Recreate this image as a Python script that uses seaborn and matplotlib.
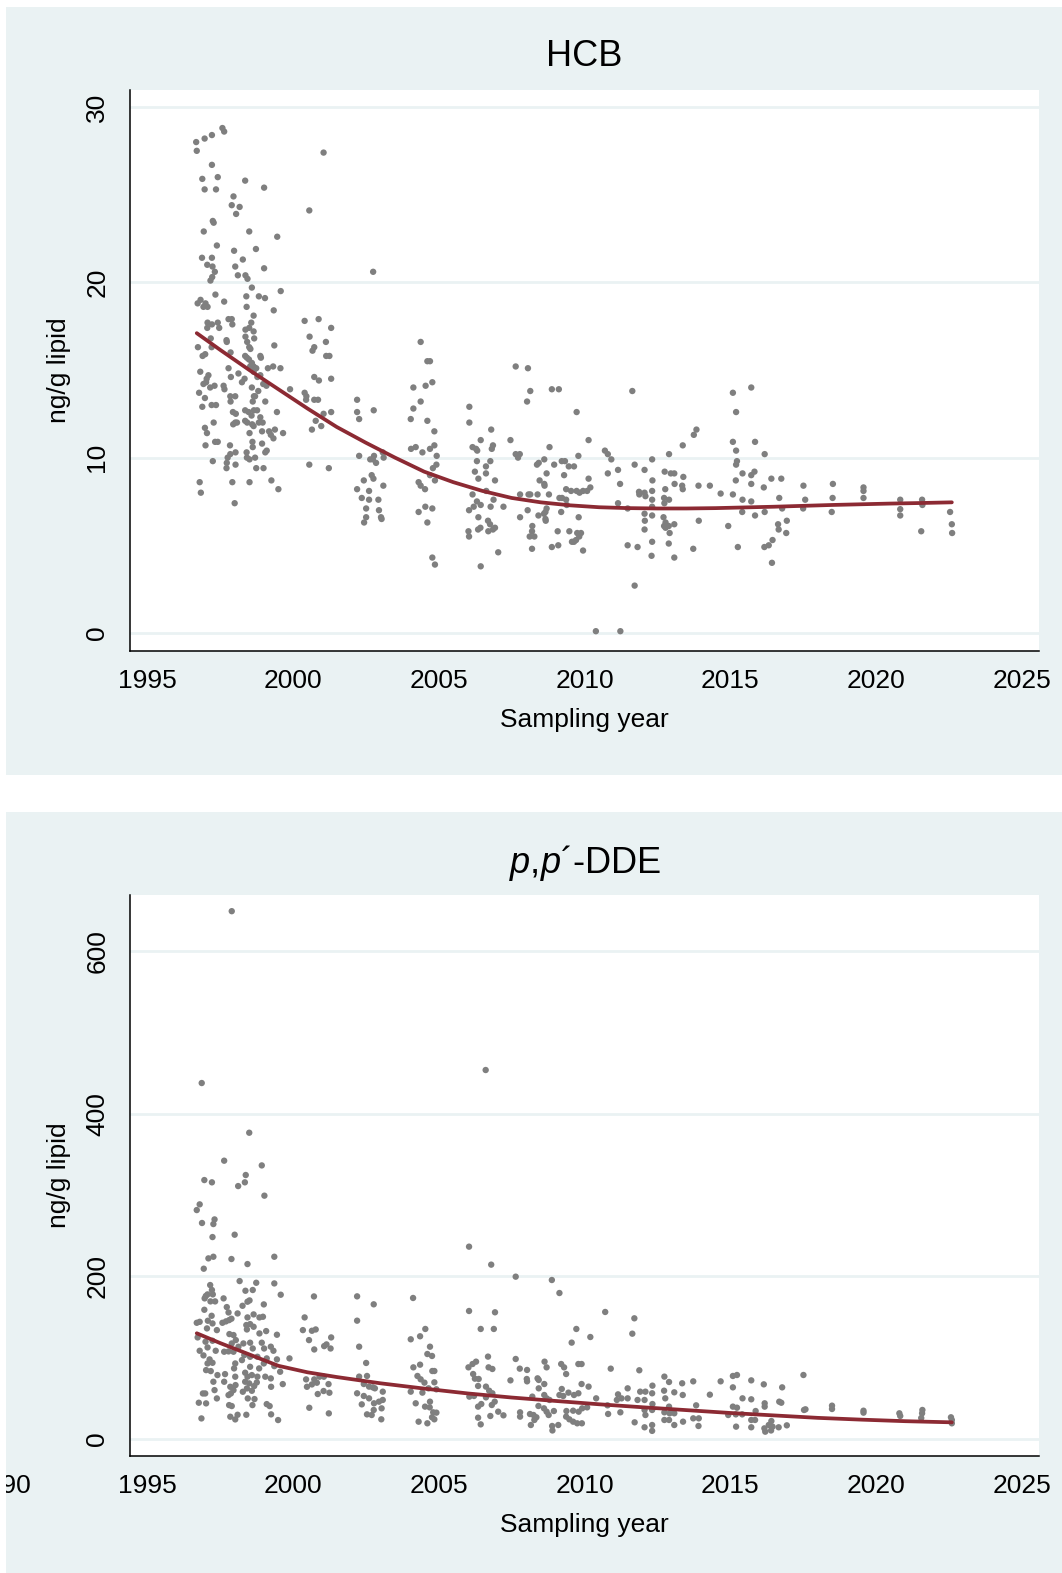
import numpy as np
import pandas as pd
import matplotlib
matplotlib.use("Agg")
import matplotlib.pyplot as plt
import seaborn as sns
from matplotlib.patches import Rectangle
from matplotlib.transforms import blended_transform_factory

# ---------------- data ----------------
hcb_points = [
    (1996.68, 28.0), (1996.70, 27.5), (1996.97, 28.2), (1997.22, 28.4), (1997.58, 28.8), (1997.64, 28.6), (2001.05, 27.4),
    (1997.22, 26.7), (1996.89, 25.9), (1997.42, 26.0), (1996.97, 25.3), (1997.36, 25.3), (1998.36, 25.8), (1999.01, 25.4),
    (1997.96, 24.9), (1997.90, 24.4), (1998.17, 24.3), (1998.05, 23.9), (2000.56, 24.1),
    (1997.25, 23.5), (1997.28, 23.4), (1996.94, 22.9), (1998.50, 22.9), (1999.46, 22.6),
    (1997.39, 22.1), (1997.98, 21.8), (1998.73, 21.9), (1996.88, 21.4), (1997.22, 21.4), (1998.28, 21.3), (1997.06, 21.0),
    (1997.24, 20.9), (1998.02, 20.9), (1997.32, 20.6), (1997.23, 20.3), (1997.17, 20.1), (1998.11, 20.4), (1998.37, 20.4),
    (1998.44, 20.2), (1999.01, 20.8), (2002.75, 20.6),
    (1998.59, 19.7), (1999.58, 19.5), (1997.34, 19.3), (1996.73, 18.8), (1996.83, 19.0), (1997.00, 18.8), (1996.93, 18.6),
    (1997.07, 18.6), (1997.64, 18.9), (1998.40, 19.2), (1998.41, 18.6), (1998.83, 19.2), (1999.04, 19.1), (1999.34, 18.4),
    (1998.65, 18.1), (1997.07, 17.7), (1997.22, 17.6), (1997.42, 17.7), (1997.79, 17.9), (1997.90, 17.9), (1997.92, 17.6),
    (1998.57, 17.7), (1997.06, 17.4), (1997.47, 17.4), (1998.37, 17.3), (1998.50, 17.4), (1998.65, 17.2), (2000.40, 17.8),
    (2000.88, 17.9), (2001.31, 17.4),
    (1996.74, 16.3), (1996.90, 15.8), (1996.99, 15.9), (1997.18, 16.8), (1997.21, 16.3), (1997.72, 16.7), (1997.73, 16.6),
    (1998.37, 16.9), (1998.43, 16.6), (1998.50, 16.3), (1998.54, 16.2), (1998.67, 16.8), (1999.36, 16.4), (1997.86, 16.0),
    (1998.36, 15.8), (1998.42, 15.7), (1998.49, 15.6), (1998.59, 15.4), (1998.53, 15.2), (1998.65, 15.2), (1998.88, 15.8),
    (1998.90, 15.7), (2000.57, 16.9), (2000.73, 16.3), (2000.67, 16.1), (2001.13, 16.6), (2001.14, 15.8), (2001.25, 15.8),
    (1996.82, 14.9), (1997.10, 14.7), (1997.04, 14.5), (1996.93, 14.2), (1997.02, 14.3), (1997.16, 14.0), (1997.31, 14.1),
    (1997.62, 14.1), (1997.65, 13.9), (1997.79, 15.1), (1997.87, 14.6), (1998.13, 14.8), (1998.25, 14.3), (1998.34, 14.5),
    (1998.65, 14.9), (1998.74, 15.1), (1998.78, 14.6), (1998.88, 14.7), (1998.98, 14.2), (1999.09, 14.1), (1999.14, 15.1),
    (1999.32, 15.2), (1999.57, 15.1), (2000.73, 14.6), (2000.89, 14.4), (2001.31, 14.5),
    (1996.78, 13.7), (1996.98, 13.4), (1996.89, 12.9), (1997.21, 13.0), (1997.36, 13.0), (1997.85, 13.5), (1998.02, 13.5),
    (1997.86, 13.2), (1998.59, 14.0), (1998.81, 13.8), (1998.66, 13.5), (1998.70, 13.5), (1998.62, 13.2), (1999.05, 13.2),
    (1999.90, 13.9), (2000.40, 13.7), (2000.46, 13.5), (2000.45, 13.3), (2000.73, 13.3), (2000.86, 13.3),
    (1997.94, 12.6), (1998.04, 12.5), (1998.36, 12.7), (1998.48, 12.6), (1998.58, 12.4), (1998.66, 12.7), (1998.77, 12.7),
    (1998.36, 12.1), (1998.43, 12.0), (1998.88, 12.3), (1998.83, 12.0), (1998.96, 12.0), (1997.95, 11.9), (1998.02, 12.0),
    (1998.08, 12.0), (1998.60, 11.9), (1998.65, 11.8), (1999.45, 12.6), (2000.78, 12.1), (2001.05, 12.5), (2001.31, 12.6),
    (1996.98, 11.7), (1997.05, 11.4), (1997.28, 12.0), (1998.51, 11.4), (1998.94, 11.5), (1999.18, 11.5), (1999.24, 11.3),
    (1999.38, 11.6), (1999.33, 11.1), (1999.66, 11.4), (2000.65, 11.6), (2000.97, 11.8),
    (1997.00, 10.7), (1997.33, 10.9), (1997.42, 10.9), (1997.84, 10.7), (1997.85, 10.2), (1998.03, 10.3), (1998.61, 10.9),
    (1998.62, 10.6), (1998.94, 10.8), (1999.05, 10.3), (1999.10, 10.4), (1998.41, 10.3), (1998.42, 10.0), (1998.51, 9.9),
    (1998.70, 10.0), (1997.25, 9.8), (1997.76, 10.0), (1997.73, 9.7), (1997.72, 9.4), (1998.03, 9.6), (1998.74, 9.4),
    (1998.99, 9.4), (2000.56, 9.6), (2001.23, 9.4),
    (1996.80, 8.6), (1996.84, 8.0), (1997.92, 8.6), (1998.51, 8.6), (1999.26, 8.7), (1999.50, 8.2), (1998.00, 7.4),
    # 2002-2003
    (2002.20, 13.3), (2002.20, 12.6), (2002.27, 12.2), (2002.77, 12.7), (2002.27, 10.1), (2002.65, 9.9), (2002.78, 10.1),
    (2002.74, 9.9), (2002.85, 9.7), (2003.08, 10.3), (2003.11, 10.0), (2002.43, 8.7), (2002.70, 9.0), (2002.76, 8.8),
    (2002.20, 8.2), (2002.36, 7.7), (2002.61, 8.1), (2002.61, 7.6), (2002.93, 7.6), (2003.10, 8.4), (2002.51, 7.1),
    (2002.51, 6.6), (2002.95, 7.0), (2003.02, 6.6), (2003.04, 6.5), (2002.44, 6.3),
    # 2004-2005
    (2004.38, 16.6), (2004.61, 15.5), (2004.70, 15.5), (2004.13, 14.0), (2004.55, 14.1), (2004.78, 14.3), (2004.38, 13.2),
    (2004.13, 12.8), (2004.04, 12.2), (2004.61, 12.1), (2004.85, 11.5), (2004.05, 10.5), (2004.21, 10.6), (2004.44, 10.3),
    (2004.70, 10.5), (2004.85, 10.7), (2004.93, 10.1), (2004.80, 9.4), (2004.92, 9.6), (2004.70, 9.0), (2004.87, 8.7),
    (2004.31, 8.6), (2004.38, 8.4), (2004.53, 8.2), (2004.54, 7.2), (2004.78, 7.1), (2004.31, 6.9), (2004.61, 6.3),
    (2004.78, 4.3), (2004.87, 3.9),
    # 2006-2007
    (2006.05, 12.9), (2006.05, 12.0), (2006.80, 11.6), (2006.44, 11.0), (2006.16, 10.6), (2006.28, 10.5), (2006.32, 10.4),
    (2006.86, 10.7), (2006.82, 10.5), (2006.31, 9.8), (2006.62, 9.5), (2006.77, 9.8), (2006.24, 9.2), (2006.62, 9.1),
    (2006.93, 8.7), (2006.36, 8.8), (2006.16, 7.9), (2006.63, 8.1), (2006.88, 7.6), (2007.22, 7.2), (2006.78, 7.2),
    (2006.31, 7.5), (2006.44, 7.3), (2006.20, 7.2), (2006.04, 7.0), (2006.36, 6.6), (2006.69, 6.4), (2006.76, 6.2),
    (2006.43, 6.0), (2006.35, 5.9), (2006.70, 5.8), (2006.86, 5.9), (2006.93, 6.0), (2006.02, 5.8), (2006.04, 5.5),
    (2007.04, 4.6), (2006.44, 3.8), (2007.46, 11.0), (2007.64, 10.2), (2007.78, 10.2), (2007.72, 10.0),
    # 2007.5-2010
    (2007.64, 15.2), (2008.06, 15.1), (2008.14, 13.8), (2008.03, 13.2), (2008.88, 13.9), (2009.12, 13.9), (2009.73, 12.6),
    (2010.14, 11.0), (2008.80, 10.6), (2008.62, 9.9), (2008.37, 9.6), (2008.43, 9.7), (2008.96, 9.6), (2008.70, 9.1),
    (2009.30, 9.0), (2009.22, 9.8), (2009.33, 9.8), (2009.46, 9.5), (2009.64, 9.5), (2009.79, 10.1), (2010.14, 8.8),
    (2008.46, 8.7), (2008.62, 8.5), (2008.63, 8.4), (2008.78, 7.9), (2008.14, 7.9), (2008.39, 7.9), (2007.79, 7.9),
    (2008.08, 7.9), (2009.37, 8.2), (2009.54, 8.1), (2009.73, 8.1), (2009.83, 8.0), (2009.95, 8.1), (2010.09, 8.1),
    (2010.20, 8.3), (2009.14, 7.7), (2009.23, 7.7), (2009.37, 7.6), (2009.39, 7.3), (2008.70, 7.1), (2008.66, 6.9),
    (2008.61, 6.8), (2008.42, 6.7), (2008.05, 7.0), (2007.79, 6.6), (2008.66, 6.5), (2008.67, 6.4), (2009.20, 6.9),
    (2009.80, 6.6), (2008.21, 6.1), (2008.20, 5.8), (2008.12, 5.5), (2008.28, 5.5), (2009.08, 5.8), (2009.48, 5.8),
    (2009.75, 5.7), (2009.88, 5.7), (2009.82, 5.5), (2009.71, 5.3), (2009.57, 5.2), (2009.64, 5.2), (2009.95, 4.7),
    (2008.20, 4.8), (2008.88, 4.9), (2009.10, 5.0),
    # 2010-2014
    (2011.64, 13.8), (2010.70, 10.4), (2010.80, 10.2), (2010.92, 9.9), (2011.15, 9.3), (2010.80, 9.1), (2011.22, 8.5),
    (2011.72, 9.6), (2012.06, 9.3), (2012.32, 9.9), (2011.15, 7.4), (2011.48, 7.1), (2011.87, 8.05), (2011.88, 7.9),
    (2012.06, 8.0), (2012.09, 7.8), (2012.33, 8.7), (2012.32, 8.1), (2012.75, 9.2), (2012.96, 9.1), (2013.08, 9.1),
    (2012.90, 10.2), (2013.37, 10.7), (2013.75, 11.3), (2013.84, 11.6), (2013.39, 8.9), (2013.09, 8.5), (2013.35, 8.4),
    (2013.37, 8.2), (2012.77, 8.2), (2012.32, 7.6), (2012.73, 7.7), (2012.90, 7.6), (2012.74, 7.4), (2012.32, 7.2),
    (2012.06, 6.8), (2012.32, 6.7), (2012.07, 6.4), (2012.71, 6.6), (2012.78, 6.3), (2012.73, 6.1), (2012.78, 6.0),
    (2012.89, 6.1), (2013.08, 6.2), (2012.92, 5.7), (2012.06, 5.9), (2012.32, 5.2), (2012.89, 5.1), (2011.48, 5.0),
    (2011.82, 4.9), (2012.30, 4.4), (2013.08, 4.3), (2013.73, 4.8), (2013.92, 6.4), (2013.91, 8.4), (2014.30, 8.4),
    (2014.67, 7.95), (2011.72, 2.7), (2010.39, 0.1), (2011.23, 0.1),
    # 2015-2017
    (2015.09, 13.7), (2015.72, 14.0), (2015.20, 12.6), (2015.09, 10.9), (2015.85, 10.9), (2015.20, 10.4), (2016.18, 10.2),
    (2015.23, 9.8), (2015.20, 9.6), (2015.42, 9.1), (2015.72, 9.0), (2015.83, 9.2), (2015.19, 8.7), (2015.72, 8.5),
    (2016.15, 8.3), (2016.41, 8.8), (2016.75, 8.8), (2015.09, 7.9), (2015.42, 7.6), (2015.72, 7.5), (2016.68, 7.7),
    (2015.41, 6.9), (2015.85, 6.7), (2016.18, 6.9), (2016.78, 7.1), (2016.94, 6.4), (2016.64, 6.2), (2016.66, 5.9),
    (2016.92, 5.7), (2014.93, 6.1), (2015.26, 4.9), (2016.17, 4.9), (2016.32, 5.0), (2016.45, 5.3), (2016.43, 4.0),
    # later years
    (2017.51, 8.4), (2017.57, 7.6), (2017.50, 7.1), (2018.52, 8.5), (2018.51, 7.7), (2018.48, 6.9), (2019.57, 8.3),
    (2019.57, 8.1), (2019.57, 7.7), (2020.83, 7.6), (2020.83, 7.06), (2020.83, 6.7), (2021.58, 7.6), (2021.59, 7.3),
    (2021.55, 5.8), (2022.54, 6.9), (2022.60, 6.2), (2022.61, 5.7),
]

hcb_fit_year = [1996.7, 1997.5, 1998.5, 1999.5, 2000.5, 2001.5, 2002.5, 2003.5, 2004.5, 2005.5, 2006.5, 2007.5, 2008.5,
                2009.5, 2010.5, 2011.5, 2012.5, 2013.5, 2014.5, 2015.5, 2016.5, 2017.5, 2018.5, 2019.5, 2020.5, 2021.5, 2022.6]
hcb_fit_value = [17.1, 16.15, 15.0, 13.9, 12.8, 11.75, 10.85, 10.0, 9.2, 8.6, 8.1, 7.7, 7.45,
                 7.28, 7.17, 7.12, 7.1, 7.1, 7.12, 7.16, 7.2, 7.25, 7.3, 7.34, 7.38, 7.41, 7.45]

dde_points = [
    (1997.90, 649.0), (1996.87, 437.7), (2006.61, 453.7),
    (1998.50, 376.6), (1997.64, 342.2), (1998.93, 336.4), (1996.96, 318.4), (1997.22, 315.6), (1998.38, 324.6),
    (1998.35, 315.6), (1998.12, 311.0), (1999.02, 299.2), (1996.80, 288.5), (1996.70, 281.5), (1996.88, 265.6),
    (1997.31, 270.0), (1997.27, 264.3), (1997.24, 248.3), (1998.00, 251.2), (1997.10, 222.1), (1997.27, 224.1),
    (1997.89, 221.3), (1998.44, 215.1), (1999.36, 224.1), (1996.94, 209.4), (1997.16, 189.3), (1997.22, 183.2),
    (1997.25, 177.8), (1997.01, 175.8), (1997.07, 177.8), (1996.97, 172.9), (1997.17, 169.2), (1997.33, 169.2),
    (1997.62, 172.9), (1998.17, 194.2), (1998.37, 182.3), (1998.62, 183.2), (1998.74, 192.1), (1999.36, 191.3),
    (1999.58, 177.4), (2000.72, 175.3), (1998.44, 168.8), (1998.51, 170.4), (1999.00, 165.5), (1998.27, 163.8),
    (1996.96, 158.9), (1997.73, 162.2), (1997.79, 155.6), (1997.89, 147.9), (1998.10, 154.4), (1997.21, 151.5),
    (1997.08, 145.4), (1997.24, 142.1), (1996.70, 142.9), (1996.80, 144.1), (1997.58, 142.9), (1997.70, 144.6),
    (1997.81, 146.2), (1997.05, 136.0), (1997.39, 133.9), (1996.73, 124.9), (1998.44, 149.5), (1998.65, 153.2),
    (1998.85, 149.5), (1998.97, 150.3), (1998.40, 140.1), (1998.53, 141.3), (1998.42, 134.7), (1998.65, 138.0),
    (1998.85, 129.8), (1999.08, 132.7), (1999.45, 128.2), (2000.40, 149.5), (2000.34, 133.9), (2000.65, 133.1),
    (2000.78, 134.7), (2000.55, 121.6), (2001.31, 124.9), (2000.73, 110.1), (2001.07, 114.2), (2001.15, 116.3),
    (2001.29, 111.3), (1997.82, 129.0), (1997.96, 127.8), (1998.04, 121.6), (1998.13, 113.5), (1997.90, 117.5),
    (1997.96, 107.3), (1997.79, 107.7), (1997.64, 107.3), (1997.35, 108.5), (1997.07, 112.6), (1996.80, 108.5),
    (1997.24, 120.8), (1997.00, 119.6), (1996.93, 102.8), (1997.14, 97.9), (1997.07, 92.9), (1997.24, 93.7),
    (1997.02, 84.7), (1997.18, 83.5), (1997.41, 78.6), (1997.67, 79.8), (1997.27, 70.4), (1998.30, 117.5),
    (1998.53, 118.4), (1998.62, 111.3), (1998.93, 118.4), (1999.01, 111.3), (1999.24, 113.5), (1999.33, 108.5),
    (1998.33, 103.2), (1998.53, 101.1), (1998.78, 101.1), (1999.10, 99.1), (1999.45, 97.9), (1999.88, 99.1),
    (1998.02, 92.9), (1997.98, 86.8), (1998.25, 97.0), (1998.53, 88.8), (1998.84, 86.8), (1999.00, 92.9),
    (1999.36, 89.6), (1999.56, 82.7), (1998.36, 81.5), (1998.44, 76.6), (1998.59, 78.6), (1998.78, 76.6),
    (1999.05, 76.6), (1999.24, 74.5), (1998.02, 76.6), (1997.64, 70.4), (1997.85, 64.2), (1998.03, 66.3),
    (1998.36, 70.4), (1998.50, 68.4), (1998.67, 65.1), (1998.76, 69.6), (1998.42, 62.2), (1998.59, 59.3),
    (1999.25, 64.2), (1999.65, 67.5), (1997.31, 60.1), (1996.91, 56.0), (1996.99, 56.0), (1996.77, 44.6),
    (1997.02, 43.8), (1997.39, 49.9), (1997.79, 54.0), (1997.87, 56.0), (1997.96, 60.1), (1998.28, 58.1),
    (1998.45, 49.9), (1998.68, 49.1), (1998.61, 41.7), (1997.81, 41.7), (1997.90, 40.5), (1999.10, 42.9),
    (1999.20, 40.5), (1996.86, 25.3), (1997.85, 27.4), (1998.02, 24.1), (1998.10, 29.8), (1998.40, 29.8),
    (1999.25, 30.3), (1999.49, 23.3), (2000.45, 73.3), (2000.48, 64.2), (2000.65, 67.1), (2000.82, 69.2),
    (2000.73, 73.3), (2000.91, 76.6), (2001.06, 76.6), (2001.22, 67.5), (2001.25, 56.9), (2001.05, 59.0),
    (2000.85, 55.3), (2000.56, 38.4), (2001.23, 31.5),
    # 2002-2003
    (2002.20, 175.4), (2002.77, 165.6), (2002.20, 145.5), (2002.27, 113.5), (2002.51, 93.5), (2002.27, 76.7),
    (2002.54, 77.5), (2002.43, 67.6), (2002.61, 64.4), (2002.74, 63.5), (2002.81, 62.3), (2003.08, 58.2),
    (2002.20, 56.2), (2002.43, 52.9), (2002.61, 50.0), (2002.36, 42.6), (2002.78, 43.9), (2002.95, 45.9),
    (2003.08, 48.0), (2003.04, 37.7), (2002.77, 35.7), (2002.54, 30.3), (2002.70, 29.5), (2003.03, 24.2),
    # 2004-2005
    (2004.12, 173.4), (2004.54, 135.3), (2004.36, 126.3), (2004.04, 122.6), (2004.70, 113.5), (2004.61, 104.5),
    (2004.77, 102.1), (2004.13, 88.1), (2004.36, 91.4), (2004.78, 83.6), (2004.85, 83.6), (2004.27, 77.5),
    (2004.38, 73.4), (2004.51, 69.3), (2004.85, 69.7), (2004.04, 58.2), (2004.44, 57.0), (2004.65, 62.3),
    (2004.92, 61.1), (2004.21, 43.9), (2004.70, 45.9), (2004.53, 39.8), (2004.69, 38.9), (2004.81, 32.8),
    (2004.92, 32.4), (2004.77, 26.7), (2004.85, 24.2), (2004.31, 21.3), (2004.61, 19.3),
    # 2006-2007
    (2006.04, 236.5), (2006.80, 214.4), (2006.04, 157.4), (2006.93, 155.8), (2006.44, 135.3), (2006.89, 135.3),
    (2006.69, 101.3), (2006.28, 95.1), (2006.16, 92.2), (2006.02, 88.1), (2006.71, 88.1), (2006.84, 86.1),
    (2006.18, 79.9), (2006.24, 74.2), (2006.37, 73.8), (2006.35, 65.2), (2006.62, 64.4), (2006.73, 59.4),
    (2006.84, 56.2), (2006.05, 52.1), (2006.21, 52.9), (2006.62, 51.2), (2006.92, 45.9), (2006.82, 41.8),
    (2006.35, 39.8), (2006.46, 43.0), (2007.04, 33.6), (2007.22, 29.1), (2006.77, 28.3), (2006.35, 26.2),
    (2006.44, 18.0),
    # 2007.5-2010
    (2007.64, 199.6), (2008.88, 195.5), (2009.14, 179.5), (2009.72, 135.3), (2009.56, 118.5), (2010.20, 125.4),
    (2007.64, 98.4), (2007.78, 86.5), (2008.63, 95.1), (2008.70, 88.1), (2009.20, 92.2), (2009.30, 88.1),
    (2009.37, 79.9), (2009.79, 92.2), (2009.90, 92.2), (2008.03, 84.9), (2007.46, 72.1), (2008.02, 73.8),
    (2008.03, 70.9), (2008.39, 74.6), (2008.43, 72.6), (2008.62, 67.6), (2009.90, 67.6), (2010.14, 64.4),
    (2008.43, 62.3), (2009.22, 61.5), (2009.45, 57.0), (2009.79, 56.2), (2009.14, 54.1), (2009.27, 52.9),
    (2009.64, 54.1), (2008.62, 54.1), (2008.21, 52.1), (2008.70, 50.0), (2008.80, 48.0), (2008.42, 40.6),
    (2008.61, 37.7), (2008.70, 33.6), (2008.95, 34.4), (2009.38, 34.4), (2009.61, 34.8), (2009.80, 33.6),
    (2009.92, 37.7), (2010.09, 38.9), (2007.79, 32.8), (2007.79, 27.5), (2008.13, 30.7), (2008.25, 29.5),
    (2008.35, 26.7), (2008.28, 23.4), (2008.16, 17.2), (2008.77, 29.5), (2008.89, 16.0), (2009.10, 17.2),
    (2009.37, 27.5), (2009.48, 24.2), (2009.61, 21.3), (2009.75, 19.3), (2009.91, 19.3), (2008.90, 10.5),
    # 2010-2014
    (2010.71, 156.2), (2011.71, 148.4), (2011.64, 129.5), (2010.90, 86.5), (2011.88, 84.5), (2010.40, 50.0),
    (2010.79, 41.4), (2010.81, 30.8), (2011.15, 54.9), (2011.27, 50.0), (2011.11, 48.0), (2011.23, 32.8),
    (2011.48, 62.3), (2011.48, 50.0), (2011.72, 20.5), (2011.91, 58.2), (2012.09, 58.2), (2011.82, 48.0),
    (2012.06, 48.0), (2012.06, 35.7), (2012.09, 29.5), (2012.33, 65.6), (2012.32, 56.2), (2012.33, 43.0),
    (2012.32, 35.7), (2012.32, 17.2), (2012.06, 14.4), (2012.74, 76.7), (2012.90, 70.1), (2012.73, 59.4),
    (2012.77, 50.0), (2013.08, 57.4), (2013.35, 68.5), (2013.37, 54.1), (2012.90, 39.8), (2012.74, 32.8),
    (2012.92, 31.6), (2013.08, 31.6), (2012.74, 23.4), (2012.90, 23.4), (2013.08, 17.2), (2013.38, 21.3),
    (2013.73, 70.9), (2013.83, 41.4), (2013.73, 25.4), (2013.92, 25.4), (2013.91, 16.0), (2014.30, 54.5),
    (2014.67, 70.9), (2012.32, 10.0),
    # 2015-2017
    (2015.09, 77.5), (2015.23, 78.7), (2015.09, 63.5), (2015.72, 72.1), (2016.15, 67.2), (2016.78, 63.5),
    (2015.42, 50.0), (2015.72, 48.8), (2016.18, 43.9), (2016.18, 39.8), (2016.68, 45.9), (2016.75, 44.6),
    (2015.09, 39.8), (2015.23, 38.5), (2015.87, 34.4), (2014.93, 29.5), (2015.19, 30.3), (2015.41, 30.3),
    (2015.72, 23.4), (2015.85, 23.4), (2016.41, 22.1), (2016.32, 17.2), (2015.20, 15.2), (2015.72, 14.4),
    (2016.17, 13.1), (2016.45, 15.2), (2016.66, 14.4), (2016.94, 16.8), (2016.20, 9.0), (2016.40, 10.5),
    # later years
    (2017.51, 78.7), (2017.53, 35.7), (2017.58, 36.5), (2018.49, 41.0), (2018.49, 36.9), (2019.57, 34.8),
    (2019.57, 32.4), (2020.80, 31.6), (2020.83, 28.3), (2021.59, 35.7), (2021.58, 31.6), (2021.55, 25.8),
    (2022.57, 26.7), (2022.60, 23.4), (2022.60, 19.3),
]

dde_fit_year = [1996.7, 1997.5, 1998.5, 1999.5, 2000.5, 2001.5, 2003.0, 2004.5, 2006.0, 2007.5, 2009.0, 2010.5,
                2012.0, 2013.5, 2015.0, 2016.5, 2018.0, 2019.5, 2021.0, 2022.6]
dde_fit_value = [130, 118, 104, 90, 82, 76.2, 68.5, 62.0, 56.0, 51.0, 46.8, 42.7,
                 39.0, 35.5, 32.0, 29.0, 26.0, 23.8, 21.9, 20.5]

x_ticks = [1995, 2000, 2005, 2010, 2015, 2020, 2025]
hcb_y_ticks = [0, 10, 20, 30]
dde_y_ticks = [0, 200, 400, 600]
x_label = "Sampling year"
y_label = "ng/g lipid"
hcb_title = "HCB"
dde_title = r"$\mathit{p{,}p}$´-DDE"

# ---------------- style ----------------
sns.set_theme(style="white")
plt.rcParams["font.family"] = ["Liberation Sans", "DejaVu Sans"]
plt.rcParams["mathtext.fontset"] = "custom"
plt.rcParams["mathtext.rm"] = "Liberation Sans"
plt.rcParams["mathtext.it"] = "Liberation Sans:italic"

W, H = 1062, 1573
BG = "#EAF2F3"
GRID = "#EAF2F3"
PT = "#7F7F7F"
LINE = "#8C2A33"

fig = plt.figure(figsize=(W / 100, H / 100), dpi=100)
fig.patch.set_facecolor("white")

def px_rect(left, top, right, bottom):
    return Rectangle((left / W, 1 - bottom / H), (right - left) / W, (bottom - top) / H,
                     transform=fig.transFigure, facecolor=BG, edgecolor="none", zorder=0)

panel1 = px_rect(6, 7, W, 775)
panel2 = px_rect(6, 812, W, H)
fig.add_artist(panel1)
fig.add_artist(panel2)

def make_axes(top, bottom):
    return fig.add_axes([130 / W, 1 - bottom / H, (1039 - 130) / W, (bottom - top) / H])

ax1 = make_axes(90, 651)
ax2 = make_axes(895, 1456)

def style_axes(ax, points, fit_x, fit_y, yticks, ylim, title, title_pad):
    df = pd.DataFrame(points, columns=["year", "value"])
    fit = pd.DataFrame({"year": fit_x, "value": fit_y})
    ax.set_facecolor("white")
    for t in yticks:
        ax.axhline(t, color=GRID, lw=2.0, zorder=0.5)
    sns.scatterplot(data=df, x="year", y="value", ax=ax, color=PT, s=21,
                    edgecolor="none", linewidth=0, zorder=2)
    sns.lineplot(data=fit, x="year", y="value", ax=ax, color=LINE, lw=2.7,
                 zorder=3, sort=True)
    ax.set_xlim(1994.41, 2025.59)
    ax.set_ylim(*ylim)
    ax.set_xticks(x_ticks)
    ax.set_xticklabels([str(v) for v in x_ticks])
    ax.set_yticks(yticks)
    ax.set_yticklabels([str(v) for v in yticks], rotation=90, va="center")
    for s in ["top", "right"]:
        ax.spines[s].set_visible(False)
    for s in ["left", "bottom"]:
        ax.spines[s].set_color("black")
        ax.spines[s].set_linewidth(1.1)
    ax.tick_params(axis="both", direction="out", length=8, width=1.1, color="black",
                   labelsize=19, labelcolor="black")
    ax.tick_params(axis="x", pad=5)
    ax.tick_params(axis="y", pad=7)
    ax.set_xlabel(x_label, fontsize=19, labelpad=10.5, color="black")
    ax.set_ylabel(y_label, fontsize=19, labelpad=10, color="black")
    ax.set_title(title, fontsize=26, pad=title_pad, color="black")
    ax.grid(False)

style_axes(ax1, hcb_points, hcb_fit_year, hcb_fit_value, hcb_y_ticks, (-1.03, 30.97), hcb_title, 17)
style_axes(ax2, dde_points, dde_fit_year, dde_fit_value, dde_y_ticks, (-20.9, 668.9), dde_title, 16)

# partially visible 1990 tick label at the left edge of the lower panel
lab = ax2.text(1990, 0, "1990", transform=blended_transform_factory(ax2.transData, ax2.transAxes),
               fontsize=19, ha="center", va="top", color="black", clip_on=True)
lab.set_clip_path(panel2)
fig.canvas.draw()
xt = ax2.get_xticklabels()[0]
bb = xt.get_window_extent()
y_axes = ax2.transAxes.inverted().transform((0, bb.y1))[1]
lab.set_position((1990, y_axes))

fig.savefig("out.png", dpi=100, facecolor="white")
